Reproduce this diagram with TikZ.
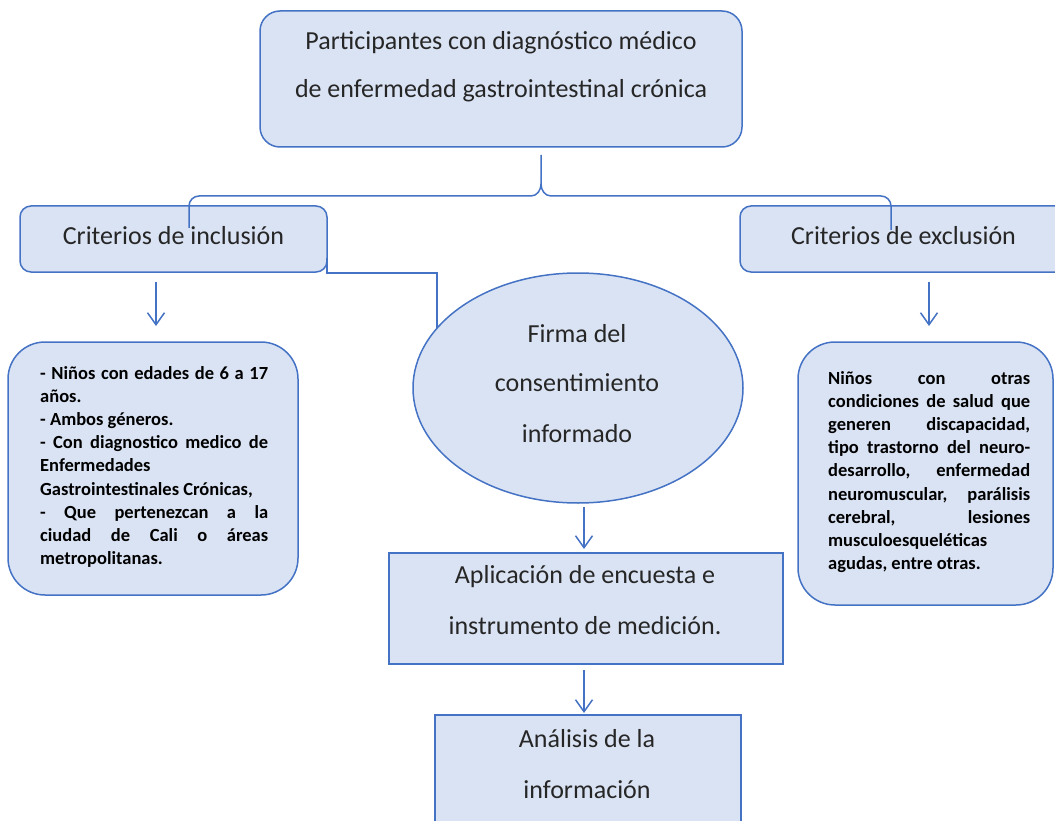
\documentclass[tikz,border=0pt]{standalone}
\usepackage{fontspec}
\setmainfont{Carlito}
\usetikzlibrary{shapes.geometric,arrows.meta}
\definecolor{boxfill}{HTML}{DAE3F3}
\definecolor{boxline}{HTML}{4472C4}
\definecolor{maintxt}{HTML}{262626}
\begin{document}
\begin{tikzpicture}[x=1pt,y=-1pt,
  shapebox/.style={draw=boxline, fill=boxfill, line width=1.5pt, inner sep=0pt},
  roundbox/.style={shapebox, rounded corners=#1},
  linetxt/.style={anchor=base, inner sep=0pt, text=maintxt, font=\fontsize{26}{31}\selectfont},
  listtxt/.style={anchor=base west, inner sep=0pt, text=black, font=\fontsize{18.5}{23.2}\selectfont\bfseries},
  conn/.style={draw=boxline, line width=1.5pt},
  arr/.style={conn, -{Straight Barb[length=12pt,width=17pt]}}
]
\useasboundingbox (0,0) rectangle (1055,821);
\clip (0,0) rectangle (1055,821);

% ---- shapes ----
\node[roundbox=20pt, minimum width=482pt, minimum height=136pt] (top) at (501,79) {};
\node[roundbox=11pt, minimum width=307pt, minimum height=66pt] (inc) at (173.5,239) {};
\node[roundbox=11pt, minimum width=335pt, minimum height=66pt] (exc) at (907.5,239) {};
\node[roundbox=37pt, minimum width=290pt, minimum height=253pt] (inclist) at (153,468.5) {};
\node[roundbox=37pt, minimum width=255pt, minimum height=263pt] (exclist) at (925.5,473.5) {};
\node[shapebox, minimum width=394pt, minimum height=111pt] (apl) at (586,608.5) {};
\node[shapebox, minimum width=306pt, minimum height=130pt] (ana) at (588,780) {};

% ---- brace from top box to the two criteria ----
\coordinate (bracetop) at (541,155);
\coordinate (bracetip) at (541,184);
\coordinate (braceL) at (189,228);
\coordinate (braceR) at (891,230);
\draw[conn] (bracetop) -- (bracetip)
  to[out=-90,in=0] (531,196) -- (199,196) to[out=180,in=90] (189,206) -- (braceL);
\draw[conn] (bracetip)
  to[out=-90,in=180] (551,196) -- (881,196) to[out=0,in=90] (891,206) -- (braceR);

% ---- elbow connector inclusion -> ellipse ----
\coordinate (incR) at (327,258);
\coordinate (elbow) at (437,273);
\coordinate (ellIn) at (437,328.3);
\draw[conn] (incR) |- (elbow) -- (ellIn);

\node[shapebox, ellipse, minimum width=330pt, minimum height=230pt] (ell) at (578,388) {};

% ---- arrows ----
\coordinate (a1s) at (156,282); \coordinate (a1e) at (156,326);
\coordinate (a2s) at (929,282); \coordinate (a2e) at (929,326);
\coordinate (a3s) at (584,507); \coordinate (a3e) at (584,549);
\coordinate (a4s) at (584,670); \coordinate (a4e) at (584,713);
\draw[arr] (a1s) -- (a1e);
\draw[arr] (a2s) -- (a2e);
\draw[arr] (a3s) -- (a3e);
\draw[arr] (a4s) -- (a4e);

% ---- texts ----
\node[linetxt] (topt1) at (501,50) {Participantes con diagnóstico médico};
\node[linetxt] (topt2) at (501,98) {de enfermedad gastrointestinal crónica};
\node[linetxt] (inct) at (173.5,244) {Criterios de inclusión};
\node[linetxt] (exct) at (903.5,244) {Criterios de exclusión};
\node[linetxt] (ellt1) at (577,342) {Firma del};
\node[linetxt] (ellt2) at (577,391) {consentimiento};
\node[linetxt] (ellt3) at (577,442) {informado};
\node[linetxt] (aplt1) at (585,583) {Aplicación de encuesta e};
\node[linetxt] (aplt2) at (585,634) {instrumento de medición.};
\node[linetxt] (anat1) at (587,747) {Análisis de la};
\node[linetxt] (anat2) at (587,798) {información};

\node[listtxt] (inctext) at (40,379) {\parbox[t]{228pt}{%
\makebox[\linewidth][s]{- Niños con edades de 6 a 17}\\
años.\\
- Ambos géneros.\\
\makebox[\linewidth][s]{- Con diagnostico medico de}\\
Enfermedades\\
Gastrointestinales Crónicas,\\
\makebox[\linewidth][s]{- Que pertenezcan a la}\\
\makebox[\linewidth][s]{ciudad de Cali o áreas}\\
metropolitanas.}};

\node[listtxt] (exctext) at (828,384) {\parbox[t]{202pt}{%
\makebox[\linewidth][s]{Niños con otras}\\
\makebox[\linewidth][s]{condiciones de salud que}\\
\makebox[\linewidth][s]{generen discapacidad,}\\
\makebox[\linewidth][s]{tipo trastorno del neuro-}\\
\makebox[\linewidth][s]{desarrollo, enfermedad}\\
\makebox[\linewidth][s]{neuromuscular, parálisis}\\
\makebox[\linewidth][s]{cerebral, lesiones}\\
musculoesqueléticas\\
agudas, entre otras.}};
\end{tikzpicture}
\end{document}
